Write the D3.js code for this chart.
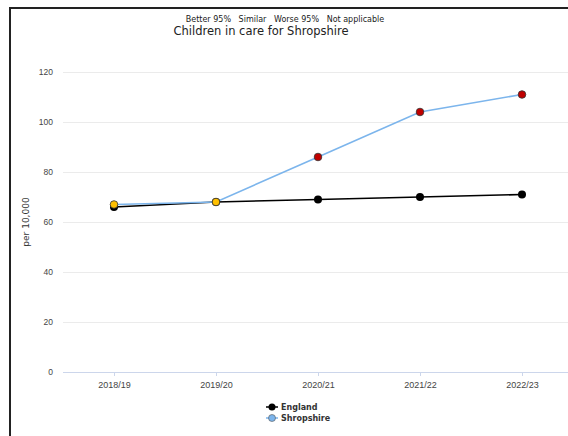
<!DOCTYPE html>
<html>
<head>
<meta charset="utf-8">
<script src="https://cdn.jsdelivr.net/npm/d3@7"></script>
<style>
  body { margin: 0; background: #fff; }
  svg { display: block; font-family: "DejaVu Sans", sans-serif; }
</style>
</head>
<body>
<div id="chart"></div>
<script>
const periods = ["2018/19", "2019/20", "2020/21", "2021/22", "2022/23"];
const englandValues = [66, 68, 69, 70, 71];
const shropshireValues = [67, 68, 86, 104, 111];
const shropshireStatus = ["Similar", "Similar", "Worse 95%", "Worse 95%", "Worse 95%"];
const yTicks = [0, 20, 40, 60, 80, 100, 120];
const statusLabels = ["Better 95%", "Similar", "Worse 95%", "Not applicable"];

const width = 568;
const height = 436;

const svg = d3.select("#chart")
    .append("svg")
    .attr("width", width)
    .attr("height", height);

// frame
svg.append("path")
    .attr("d", `M10,${height} V8 H${width}`)
    .attr("fill", "none")
    .attr("stroke", "#222")
    .attr("stroke-width", 2);

const xScale = d3.scalePoint()
    .domain(periods)
    .range([114, 522]);

const yScale = d3.scaleLinear()
    .domain([0, 120])
    .range([372, 72]);

const statusColor = d3.scaleOrdinal()
    .domain(["Better 95%", "Similar", "Worse 95%", "Not applicable"])
    .range(["#92d050", "#ffc000", "#c00000", "#ffffff"]);

// grid
svg.append("g")
    .selectAll("line")
    .data(yTicks)
    .enter()
    .append("line")
    .attr("x1", 63)
    .attr("x2", width)
    .attr("y1", d => yScale(d) + 0.5)
    .attr("y2", d => yScale(d) + 0.5)
    .attr("stroke", d => d === 0 ? "#ccd6eb" : "#ebebeb")
    .attr("stroke-width", 1);

// y axis labels
const yAxis = d3.axisLeft(yScale).tickValues(yTicks).tickSize(0).tickPadding(0);
svg.append("g")
    .attr("transform", "translate(53,0)")
    .call(yAxis)
    .call(g => g.select(".domain").remove())
    .call(g => g.selectAll("text")
        .attr("fill", "#444")
        .style("font-size", "8.5px"));

svg.append("text")
    .attr("transform", `translate(29,${yScale(60)}) rotate(-90)`)
    .attr("text-anchor", "middle")
    .attr("fill", "#333")
    .style("font-size", "9px")
    .text("per 10,000");

// x axis
const xAxis = d3.axisBottom(xScale).tickSize(4).tickPadding(6);
svg.append("g")
    .attr("transform", "translate(0,372)")
    .call(xAxis)
    .call(g => g.select(".domain").remove())
    .call(g => g.selectAll(".tick line").attr("stroke", "#ccd6eb"))
    .call(g => g.selectAll("text")
        .attr("fill", "#444")
        .style("font-size", "9px"));

// lines
const line = d3.line()
    .x((d, i) => xScale(periods[i]))
    .y(d => yScale(d));

svg.append("path")
    .datum(englandValues)
    .attr("d", line)
    .attr("fill", "none")
    .attr("stroke", "#000")
    .attr("stroke-width", 1.6);

svg.append("path")
    .datum(shropshireValues)
    .attr("d", line)
    .attr("fill", "none")
    .attr("stroke", "#7cb5ec")
    .attr("stroke-width", 1.6);

svg.append("g")
    .selectAll("circle")
    .data(englandValues)
    .enter()
    .append("circle")
    .attr("cx", (d, i) => xScale(periods[i]))
    .attr("cy", d => yScale(d))
    .attr("r", 4)
    .attr("fill", "#000");

svg.append("g")
    .selectAll("circle")
    .data(shropshireValues)
    .enter()
    .append("circle")
    .attr("cx", (d, i) => xScale(periods[i]))
    .attr("cy", d => yScale(d))
    .attr("r", 3.8)
    .attr("fill", (d, i) => statusColor(shropshireStatus[i]))
    .attr("stroke", "#333")
    .attr("stroke-width", 0.8);

// title + status legend
svg.append("text")
    .attr("x", 285)
    .attr("y", 22)
    .attr("text-anchor", "middle")
    .attr("fill", "#222")
    .style("font-size", "8px")
    .attr("xml:space", "preserve")
    .text(statusLabels.join("   "));

svg.append("text")
    .attr("x", 261)
    .attr("y", 35)
    .attr("text-anchor", "middle")
    .attr("fill", "#222")
    .style("font-size", "11.5px")
    .text("Children in care for Shropshire");

// series legend
const legendItems = [
    { name: "England", color: "#000", fill: "#000" },
    { name: "Shropshire", color: "#7cb5ec", fill: "#7cb5ec" }
];
const legend = svg.append("g").attr("transform", "translate(266,407)");
const items = legend.selectAll("g")
    .data(legendItems)
    .enter()
    .append("g")
    .attr("transform", (d, i) => `translate(0,${i * 11})`);
items.append("line")
    .attr("x1", 0).attr("x2", 12)
    .attr("stroke", d => d.color)
    .attr("stroke-width", 1.5);
items.append("circle")
    .attr("cx", 6).attr("r", 3.5)
    .attr("fill", d => d.fill)
    .attr("stroke", d => d.name === "Shropshire" ? "#555" : "none")
    .attr("stroke-width", 0.6);
items.append("text")
    .attr("x", 15)
    .attr("dy", "0.35em")
    .attr("fill", "#333")
    .style("font-size", "8px")
    .style("font-weight", "bold")
    .text(d => d.name);
</script>
</body>
</html>
